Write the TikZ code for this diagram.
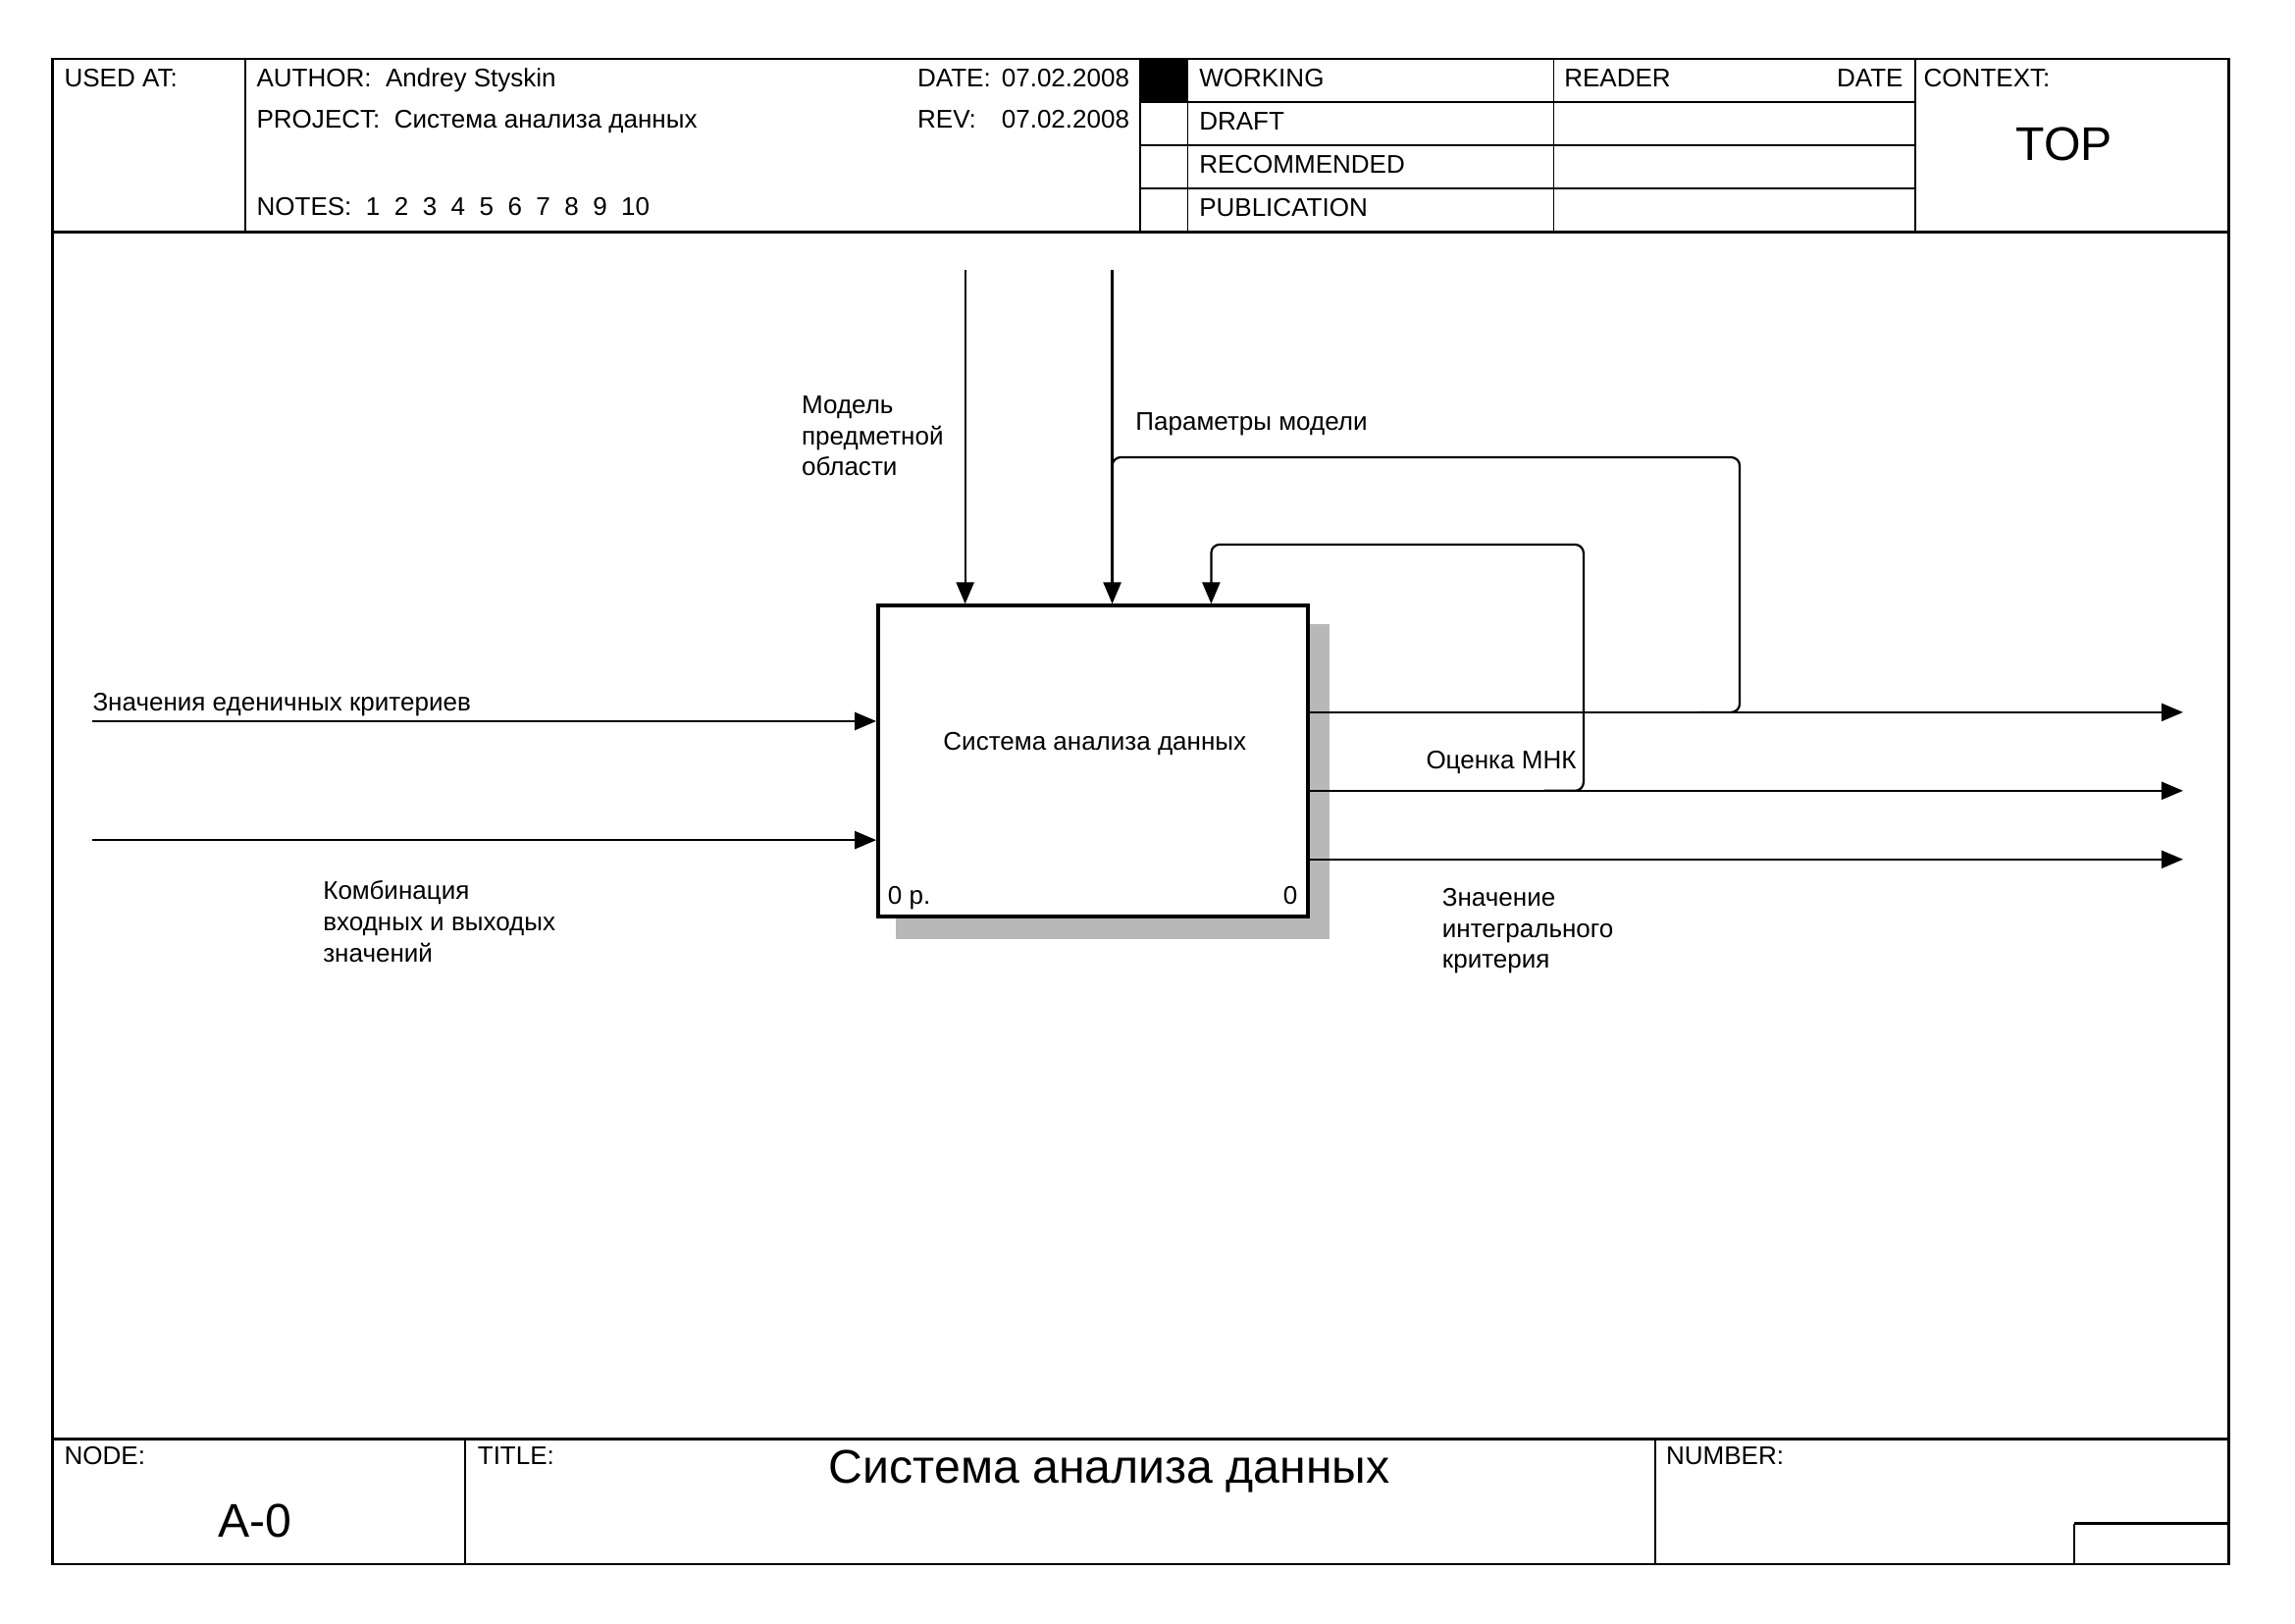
\documentclass[tikz,border=0pt]{standalone}
\usepackage{fontspec}
\setmainfont{Liberation Sans}
\usetikzlibrary{arrows.meta}
\begin{document}
\begin{tikzpicture}[x=0.189413mm,y=-0.189413mm,
  txt/.style={font=\fontsize{9.4pt}{11.4pt}\selectfont, inner sep=0pt},
  mtxt/.style={txt, align=left, anchor=north west},
  big/.style={font=\fontsize{17.4pt}{20pt}\selectfont, inner sep=0pt},
  frameline/.style={line width=0.34mm},
  sepline/.style={line width=0.4mm},
  thinline/.style={line width=0.24mm},
  arr/.style={line width=0.28mm, -{Triangle[length=2.8mm,width=2.3mm]}},
  link/.style={line width=0.28mm, rounded corners=1.1mm},
  actbox/.style={draw, fill=white, line width=0.5mm, minimum width=55.6mm, minimum height=40.25mm, inner sep=0pt},
  shade/.style={fill=black!28}
]
\useasboundingbox (0,0) rectangle (1568,1108.8);

% ---------- form frame ----------
\draw[frameline] (35.8,40.3) rectangle (1522.5,1068.5);
\draw[sepline] (35.8,158.5) -- (1522.5,158.5);
\draw[sepline] (35.8,983.2) -- (1522.5,983.2);
% header
\draw[thinline] (167.5,40.3) -- (167.5,158.5);
\draw[thinline] (778.8,40.3) -- (778.8,158.5);
\draw[thinline] (811.5,40.3) -- (811.5,158.5);
\draw[thinline] (1061.5,40.3) -- (1061.5,158.5);
\draw[thinline] (1308.3,40.3) -- (1308.3,158.5);
\draw[thinline] (778.8,69.5) -- (1308.3,69.5);
\draw[thinline] (778.8,99.2) -- (1308.3,99.2);
\draw[thinline] (778.8,128.7) -- (1308.3,128.7);
\fill (778.8,40.3) rectangle (811.5,69.5);
% footer
\draw[thinline] (318,983.2) -- (318,1068.5);
\draw[thinline] (1131,983.2) -- (1131,1068.5);
\draw[sepline] (1417,1040.8) -- (1522.5,1040.8);
\draw[thinline] (1417,1040.8) -- (1417,1068.5);

% ---------- header texts ----------
\node[txt,anchor=base west] (usedat) at (43.6,59.2) {USED AT:};
\node[txt,anchor=base west] (author) at (175,59.2) {AUTHOR:~~Andrey Styskin};
\node[txt,anchor=base west] (project) at (175,87.2) {PROJECT:~~Система анализа данных};
\node[txt,anchor=base west] (notes) at (175,147) {NOTES:~~1~~2~~3~~4~~5~~6~~7~~8~~9~~10};
\node[txt,anchor=base west] (datel) at (626.5,59.2) {DATE:};
\node[txt,anchor=base east] (dater) at (772,59.2) {07.02.2008};
\node[txt,anchor=base west] (revl) at (626.5,87.2) {REV:};
\node[txt,anchor=base east] (revr) at (772,87.2) {07.02.2008};
\node[txt,anchor=base west] (working) at (819,59.3) {WORKING};
\node[txt,anchor=base west] (draft) at (819,89) {DRAFT};
\node[txt,anchor=base west] (recom) at (819,118.5) {RECOMMENDED};
\node[txt,anchor=base west] (public) at (819,148.1) {PUBLICATION};
\node[txt,anchor=base west] (reader) at (1068.4,59.2) {READER};
\node[txt,anchor=base east] (rdate) at (1300.6,59.2) {DATE};
\node[txt,anchor=base west] (context) at (1314,59.2) {CONTEXT:};
\node[big,anchor=base] (top) at (1410.2,109.5) {TOP};

% ---------- footer texts ----------
\node[txt,anchor=base west] (nodelbl) at (43.6,1000.6) {NODE:};
\node[txt,anchor=base west] (titlelbl) at (326,1000.6) {TITLE:};
\node[txt,anchor=base west] (numlbl) at (1138,1000.6) {NUMBER:};
\node[big,anchor=base] (title) at (758,1013.4) {Система анализа данных};
\node[big,anchor=base] (nodeid) at (174,1050) {A-0};

% ---------- activity box ----------
\fill[shade] (612,426.4) rectangle (908.4,641.4);
\node[actbox] (box) at (746.8,520.1) {};
\node[txt,anchor=base] (boxname) at (748,512.2) {Система анализа данных};
\node[txt,anchor=base west] (boxcost) at (606.3,617.9) {0 р.};
\node[txt,anchor=base east] (boxnum) at (886.8,617.9) {0};

% ---------- arrows ----------
\coordinate (c1) at (659.4,184.4);
\coordinate (c2) at (759.9,184.4);
\draw[arr] (c1) -- (c1 |- box.north);
\draw[arr] (c2) -- (c2 |- box.north);

\coordinate (i1) at (63,492.7);
\coordinate (i2) at (63,573.9);
\draw[arr] (i1) -- (i1 -| box.west);
\draw[arr] (i2) -- (i2 -| box.west);

\coordinate (o1) at (1491.5,486.6);
\coordinate (o2) at (1491.5,540.2);
\coordinate (o3) at (1491.5,587.1);
\draw[arr] (o1 -| box.east) -- (o1);
\draw[arr] (o2 -| box.east) -- (o2);
\draw[arr] (o3 -| box.east) -- (o3);

% feedback: parameters of model
\coordinate (p0) at (1160,486.6);
\coordinate (p1) at (1188.6,486.6);
\coordinate (p2) at (1188.6,312.4);
\coordinate (p3) at (759.9,312.4);
\coordinate (p4) at (759.9,345);
\draw[link] (p0) -- (p1) -- (p2) -- (p3) -- (p4);

% feedback: OLS estimate
\coordinate (q0) at (1055,540.2);
\coordinate (q1) at (1081.9,540.2);
\coordinate (q2) at (1081.9,372);
\coordinate (q3) at (827.5,372);
\draw[link,arr] (q0) -- (q1) -- (q2) -- (q3) -- (q3 |- box.north);

% ---------- arrow labels ----------
\node[txt,anchor=base west] (lin1) at (63,486) {Значения еденичных критериев};
\node[mtxt] (lin2) at (220.4,601.5) {Комбинация\\входных и выходых\\значений};
\node[mtxt] (lc1) at (547.4,270.2) {Модель\\предметной\\области};
\node[txt,anchor=base west] (lc2) at (775.5,293.9) {Параметры модели};
\node[txt,anchor=base west] (lo2) at (974,525.2) {Оценка МНК};
\node[mtxt] (lo3) at (985,606.5) {Значение\\интегрального\\критерия};
\end{tikzpicture}
\end{document}
